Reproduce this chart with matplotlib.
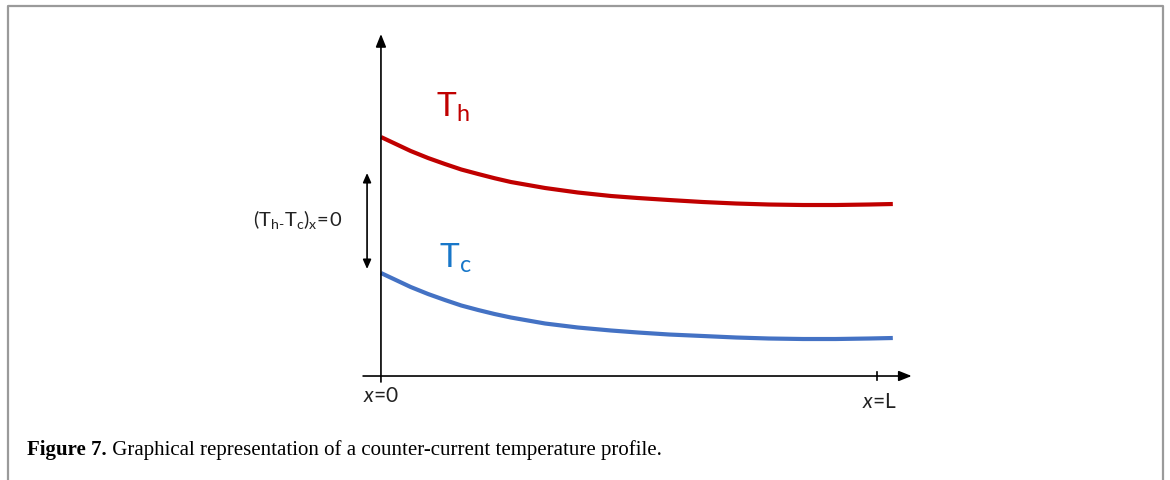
import matplotlib
matplotlib.use('Agg')
import matplotlib.pyplot as plt
from matplotlib.lines import Line2D

plt.rcParams['mathtext.fontset'] = 'custom'
plt.rcParams['mathtext.rm'] = 'Lato'
plt.rcParams['mathtext.it'] = 'Lato:italic'

# position along the exchanger (x/L) and temperatures (arbitrary units)
x_pos = [0.0, 0.030, 0.060, 0.095, 0.129, 0.162, 0.196, 0.229, 0.262, 0.331,
         0.397, 0.464, 0.518, 0.581, 0.649, 0.716, 0.782, 0.851, 0.917,
         0.984, 1.032]
t_hot = [2.39, 2.32, 2.25, 2.18, 2.12, 2.065, 2.02, 1.978, 1.94, 1.88,
         1.835, 1.80, 1.78, 1.76, 1.74, 1.725, 1.715, 1.71, 1.71,
         1.715, 1.72]
t_cold = [1.03, 0.96, 0.89, 0.82, 0.76, 0.705, 0.66, 0.62, 0.585, 0.525,
          0.485, 0.455, 0.435, 0.415, 0.40, 0.385, 0.375, 0.37, 0.37,
          0.375, 0.38]

diff_range = [1.07, 2.03]
x_labels = ['$x$=0', '$x$=L']

red = '#C00000'
blue = '#4472C4'
blue_txt = '#1877C9'

fig = plt.figure(figsize=(11.7, 4.81), dpi=100)
ax = fig.add_axes([0.3256, 0.2162, 0.4536, 0.711])
ax.set_xlim(0, 1.07)
ax.set_ylim(0, 3.42)
ax.axis('off')

for temps, col in [(t_hot, red), (t_cold, blue)]:
    ax.plot(x_pos, temps, color=col, lw=3, solid_capstyle='butt',
            solid_joinstyle='round', clip_on=False)

# axes with arrows
head = '-|>,head_length=0.55,head_width=0.22'
ax.annotate('', xy=(1.07, 0), xytext=(-0.036, 0), annotation_clip=False,
            arrowprops=dict(arrowstyle=head, color='k', lw=1.2,
                            shrinkA=0, shrinkB=0, mutation_scale=14))
ax.annotate('', xy=(0, 3.42), xytext=(0, -0.06), annotation_clip=False,
            arrowprops=dict(arrowstyle=head, color='k', lw=1.2,
                            shrinkA=0, shrinkB=0, mutation_scale=14))
ax.plot([1, 1], [-0.04, 0.04], color='k', lw=1.2, clip_on=False)

# temperature difference at inlet
ax.annotate('', xy=(-0.028, diff_range[1]), xytext=(-0.028, diff_range[0]),
            annotation_clip=False,
            arrowprops=dict(arrowstyle='<|-|>,head_length=0.5,head_width=0.22',
                            color='k', lw=1.2, shrinkA=0, shrinkB=0,
                            mutation_scale=11))
ax.text(-0.079, 1.51, r'$\mathregular{(T_{h\text{-}}T_c)_x\!=\!0}$',
        family='Lato', fontsize=14.5, color='#222222', ha='right', va='baseline')

ax.text(0.111, 2.60, r'$\mathregular{T_h}$', family='Lato', fontsize=24,
        color=red, ha='left', va='baseline')
ax.text(0.117, 1.09, r'$\mathregular{T_c}$', family='Lato', fontsize=24,
        color=blue_txt, ha='left', va='baseline')

ax.text(0.0, -0.25, x_labels[0], family='Lato', fontsize=15, color='#222222',
        ha='center', va='baseline')
ax.text(1.004, -0.31, x_labels[1], family='Lato', fontsize=15, color='#222222',
        ha='center', va='baseline')

# caption
cap1 = fig.text(27 / 1170, 1 - 455 / 481, 'Figure 7.', family='Liberation Serif',
                fontsize=15, fontweight='bold', ha='left', va='baseline')
ax.annotate(' Graphical representation of a counter-current temperature profile.',
            xy=(1, 0), xycoords=cap1, va='bottom', ha='left',
            family='Liberation Serif', fontsize=15, annotation_clip=False)

# frame around the figure (open at the bottom)
fx = [8 / 1170, 8 / 1170, 1163 / 1170, 1163 / 1170]
fy = [0, 1 - 7 / 481, 1 - 7 / 481, 0]
fig.add_artist(Line2D(fx, fy, color='#9a9a9a', lw=1.6, transform=fig.transFigure))

fig.savefig('out.png', dpi=100)
